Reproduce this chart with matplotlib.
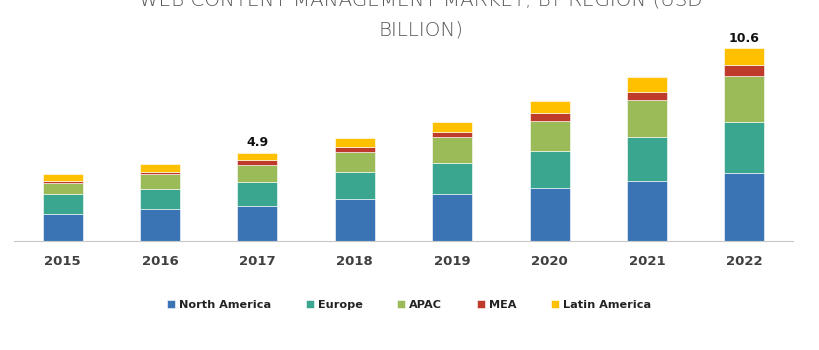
import matplotlib
matplotlib.use("Agg")
import matplotlib.pyplot as plt
import numpy as np

years = ["2015", "2016", "2017", "2018", "2019", "2020", "2021", "2022"]
regions = ["North America", "Europe", "APAC", "MEA", "Latin America"]
north_america = [1.51, 1.75, 1.95, 2.30, 2.57, 2.92, 3.31, 3.75]
europe = [1.05, 1.10, 1.30, 1.49, 1.71, 2.02, 2.39, 2.81]
apac = [0.61, 0.81, 0.94, 1.12, 1.43, 1.69, 2.06, 2.52]
mea = [0.14, 0.14, 0.24, 0.28, 0.29, 0.39, 0.46, 0.61]
latin_america = [0.35, 0.41, 0.42, 0.50, 0.57, 0.68, 0.79, 0.92]
totals_shown = {2: "4.9", 7: "10.6"}

colors = ["#3A74B5", "#3AA690", "#9BBB59", "#BE3A2A", "#FFC000"]
series = [north_america, europe, apac, mea, latin_america]

fig = plt.figure(figsize=(8.2, 3.5), dpi=100)
ax = fig.add_axes([14 / 820, 109 / 350, 779 / 820, 209 / 350])

x = np.arange(len(years))
bottom = np.zeros(len(years))
for vals, col, name in zip(series, colors, regions):
    ax.bar(x, vals, width=0.41, bottom=bottom, color=col, label=name,
           edgecolor="white", linewidth=0.4)
    bottom += np.array(vals)

for i, txt in totals_shown.items():
    ax.text(x[i], bottom[i] + 0.2, txt, ha="center", va="bottom",
            fontsize=9, fontweight="bold", color="#111111")

ax.set_xlim(-0.5, len(years) - 0.5)
ax.set_ylim(0, 11.5)
ax.set_xticks(x)
ax.set_xticklabels(years, fontsize=9.5, fontweight="bold", color="#404040")
ax.tick_params(axis="x", length=0, pad=10)
ax.set_yticks([])
for s in ["top", "right", "left"]:
    ax.spines[s].set_visible(False)
ax.spines["bottom"].set_color("#C8C8C8")

# title, cut at the top edge like the original
title_kw = dict(ha="center", va="baseline", fontsize=14.3, color="#555555",
                fontweight="light")
fig.text(421 / 820, 1 - 5 / 350, "WEB CONTENT MANAGEMENT MARKET, BY REGION (USD", **title_kw)
fig.text(421 / 820, 1 - 35 / 350, "BILLION)", **title_kw)

handles, labels = ax.get_legend_handles_labels()
fig.legend(handles, labels, loc="center", bbox_to_anchor=(409 / 820, 1 - 305 / 350),
           ncol=5, frameon=False, handlelength=0.7, handleheight=0.7,
           handletextpad=0.35, columnspacing=3.1,
           prop={"weight": "bold", "size": 8.1}, labelcolor="#222222")

fig.savefig("out.png", dpi=100)
